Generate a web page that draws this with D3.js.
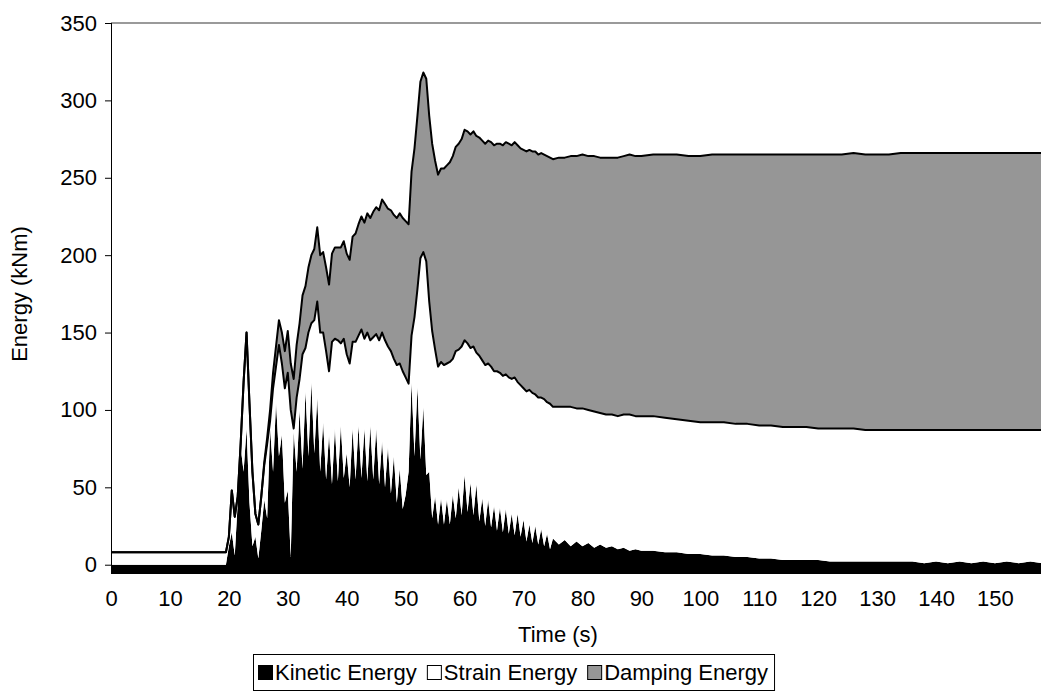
<!DOCTYPE html>
<meta charset="utf-8">
<style>
body { margin: 0; background: #fff; }
text { font-family: "Liberation Sans", Arial, sans-serif; font-size: 22px; fill: #000; }
</style>
<body>
<script src="https://d3js.org/d3.v7.min.js"></script>
<script type="text/javascript">

// values (time in s, energy in kNm)
var time = [0, 19,
  19.5, 20, 20.5, 21, 21.5, 22, 22.5, 23, 23.5, 24,
  24.5, 25, 25.5, 26, 26.5, 27, 27.5, 28, 28.5, 29,
  29.5, 30, 30.5, 31, 31.5, 32, 32.5, 33, 33.5, 34,
  34.5, 35, 35.5, 36, 36.5, 37, 37.5, 38, 38.5, 39,
  39.5, 40, 40.5, 41, 41.5, 42, 42.5, 43, 43.5, 44,
  44.5, 45, 45.5, 46, 46.5, 47, 47.5, 48, 48.5, 49,
  49.5, 50, 50.5, 51, 51.5, 52, 52.5, 53, 53.5, 54,
  54.5, 55, 55.5, 56, 56.5, 57, 57.5, 58, 58.5, 59,
  59.5, 60, 60.5, 61, 61.5, 62, 62.5, 63, 63.5, 64,
  64.5, 65, 65.5, 66, 66.5, 67, 67.5, 68, 68.5, 69,
  69.5, 70, 70.5, 71, 71.5, 72, 72.5, 73, 73.5, 74,
  74.5, 75,
  76, 77, 78, 79, 80, 81, 82, 83, 84, 85,
  86, 87, 88, 89, 90,
  92, 94, 96, 98, 100, 102, 104, 106, 108, 110,
  112, 114, 116, 118, 120, 122, 124, 126, 128, 130,
  132, 134, 136, 138, 140, 142, 144, 146, 148, 150,
  152, 154, 156, 158];

var kinetic = [0, 0,
  0, 12, 21, 6, 40, 76, 60, 88, 40, 12,
  18, 4, 22, 42, 30, 88, 60, 105, 70, 84,
  40, 48, 5, 86, 60, 100, 62, 112, 70, 118,
  72, 108, 60, 92, 55, 84, 52, 88, 54, 90,
  56, 72, 50, 88, 55, 90, 56, 88, 54, 90,
  55, 88, 52, 80, 50, 76, 46, 70, 40, 62,
  36, 45, 60, 118, 70, 115, 68, 102, 58, 60,
  30, 44, 26, 43, 26, 42, 26, 45, 30, 50,
  32, 58, 34, 53, 32, 52, 28, 43, 25, 42,
  24, 38, 22, 37, 21, 36, 20, 33, 19, 33,
  18, 29, 15, 26, 14, 25, 13, 23, 12, 20,
  10, 17,
  13, 16, 12, 15, 12, 14, 11, 13, 11, 12,
  10, 11, 9, 10, 9,
  9, 8, 8, 7, 7, 6, 6, 5, 5, 4,
  4, 3, 3, 3, 3, 2, 2, 2, 2, 2,
  2, 2, 2, 1, 2, 1, 2, 1, 2, 1,
  2, 1, 2, 1];

var strain = [8, 8,
  8, 6, 27, 25, 4, 2, 58, 62, 64, 48,
  15, 22, 22, 22, 48, 5, 54, 23, 72, 46,
  74, 76, 95, 2, 48, 20, 74, 28, 80, 38,
  86, 62, 90, 58, 83, 41, 92, 58, 91, 53,
  90, 64, 80, 56, 89, 58, 96, 58, 96, 55,
  92, 61, 93, 70, 95, 65, 92, 63, 89, 68,
  89, 76, 57, 30, 90, 63, 130, 100, 138, 110,
  121, 95, 102, 88, 103, 88, 105, 88, 108, 89,
  109, 87, 109, 87, 109, 85, 107, 89, 104, 88,
  104, 87, 103, 87, 101, 87, 101, 87, 102, 85,
  98, 85, 97, 87, 97, 85, 95, 85, 95, 85,
  94, 85,
  89, 86, 90, 86, 89, 86, 88, 85, 86, 85,
  86, 86, 88, 86, 87,
  87, 87, 86, 86, 85, 86, 86, 86, 86, 86,
  86, 86, 86, 86, 85, 86, 86, 86, 85, 85,
  85, 85, 85, 86, 85, 86, 85, 86, 85, 86,
  85, 86, 85, 86];

var damping = [0, 0,
  0, 0, 0, 0, 0, 0, 0, 0, 0, 0,
  0, 0, 0, 2, 4, 7, 10, 13, 16, 20,
  24, 27, 30, 32, 34, 36, 38, 40, 42, 44,
  46, 48, 50, 52, 54, 56, 57, 59, 60, 62,
  63, 65, 67, 68, 70, 72, 73, 75, 77, 79,
  81, 82, 84, 86, 88, 89, 91, 93, 95, 97,
  99, 101, 103, 106, 109, 112, 114, 116, 118, 120,
  121, 122, 124, 125, 127, 128, 129, 131, 132, 133,
  134, 136, 137, 138, 139, 140, 141, 142, 143, 144,
  145, 146, 147, 148, 149, 150, 151, 151, 152, 153,
  153, 154, 155, 155, 156, 157, 157, 158, 158, 159,
  159, 160,
  161, 161, 162, 163, 164, 164, 165, 165, 166, 166,
  167, 167, 168, 168, 168,
  169, 170, 171, 171, 172, 173, 173, 174, 174, 175,
  175, 176, 176, 176, 177, 177, 177, 178, 178, 178,
  178, 179, 179, 179, 179, 179, 179, 179, 179, 179,
  179, 179, 179, 179];

var seriesKeys = ["kinetic", "strain", "damping"];
var seriesNames = ["Kinetic Energy", "Strain Energy", "Damping Energy"];
var seriesColors = ["#000000", "#ffffff", "#969696"];

var xTickValues = [0, 10, 20, 30, 40, 50, 60, 70, 80, 90, 100, 110, 120, 130, 140, 150];
var yTickValues = [0, 50, 100, 150, 200, 250, 300, 350];

// SVG dimensions
var svg_size = {"width": 1041, "height": 691};
var plot = {"left": 111, "top": 23, "bottom": 574, "right": 1041};

var holder = d3.select("body")
	.append("svg")
	.attr("width", svg_size.width)
	.attr("height", svg_size.height);

// Scales. The x range runs past the right edge, the chart was cut there.
var x = d3.scaleLinear().domain([0, 158]).range([plot.left, plot.left + 158 * 5.893]);
var y = d3.scaleLinear().domain([-6, 350]).range([plot.bottom, plot.top]);

// rows for the stack
var rows = time.map(function(t, i) {
	return {"t": t, "kinetic": kinetic[i], "strain": strain[i], "damping": damping[i]};
});
var layers = d3.stack().keys(seriesKeys)(rows);

holder.append("clipPath")
	.attr("id", "plotclip")
	.append("rect")
	.attr("x", plot.left)
	.attr("y", plot.top)
	.attr("width", plot.right - plot.left)
	.attr("height", plot.bottom - plot.top);

var chart = holder.append("g").attr("clip-path", "url(#plotclip)");

// Areas. Excel fills the first series down to the bottom of the axis.
var area = d3.area()
	.x(function(d) { return x(d.data.t); })
	.y0(function(d) { return d[0] === 0 && d[1] === d.data.kinetic ? y.range()[0] : y(d[0]); })
	.y1(function(d) { return y(d[1]); });

chart.selectAll(".layer")
	.data(layers)
	.enter().append("path")
	.attr("class", "layer")
	.style("fill", function(d, i) { return seriesColors[i]; })
	.style("stroke", "none")
	.attr("d", area);

// top edges of strain and damping drawn as black lines
var edge = d3.line()
	.x(function(d) { return x(d.data.t); })
	.y(function(d) { return y(d[1]); });

chart.selectAll(".edge")
	.data(layers.slice(1))
	.enter().append("path")
	.attr("class", "edge")
	.style("fill", "none")
	.style("stroke", "#000")
	.style("stroke-width", 2)
	.style("stroke-linejoin", "round")
	.attr("d", edge);

// top border of the plot area
holder.append("line")
	.attr("x1", plot.left).attr("x2", plot.right)
	.attr("y1", plot.top).attr("y2", plot.top)
	.style("stroke", "#9a9a9a")
	.style("stroke-width", 2);

// Y axis
holder.append("g")
	.attr("transform", "translate(" + plot.left + ",0)")
	.call(d3.axisLeft(y).tickValues(yTickValues).tickSize(6).tickSizeOuter(0).tickPadding(8))
	.call(function(g) {
		g.select(".domain").attr("d", "M0.5," + plot.top + "V" + plot.bottom).style("stroke", "#000");
		g.selectAll(".tick line").style("stroke", "#000");
		g.selectAll(".tick text").style("font-size", "22px").style("font-family", null);
	});

// X labels, no tick marks
holder.append("g")
	.attr("transform", "translate(0," + plot.bottom + ")")
	.call(d3.axisBottom(x).tickValues(xTickValues).tickSize(0).tickPadding(16))
	.call(function(g) {
		g.select(".domain").remove();
		g.selectAll(".tick text").style("font-size", "22px").style("font-family", null);
	});

// axis titles
holder.append("text")
	.attr("x", 558)
	.attr("y", 642)
	.attr("text-anchor", "middle")
	.text("Time (s)");

holder.append("text")
	.attr("transform", "translate(27,294) rotate(-90)")
	.attr("text-anchor", "middle")
	.text("Energy (kNm)");

// legend
var legend = holder.append("g");
var box = legend.append("rect")
	.style("fill", "#fff")
	.style("stroke", "#000")
	.style("stroke-width", 1);

var lx = 258;
seriesNames.forEach(function(name, i) {
	legend.append("rect")
		.attr("x", lx + 0.5).attr("y", 665.5)
		.attr("width", 14).attr("height", 14)
		.style("fill", seriesColors[i])
		.style("stroke", "#000");
	var t = legend.append("text")
		.attr("x", lx + 17)
		.attr("y", 680)
		.text(name);
	lx += 17 + t.node().getComputedTextLength() + 10;
});
box.attr("x", 253.5).attr("y", 654.5)
	.attr("width", lx - 10 + 6 - 253)
	.attr("height", 36);

</script>
</body>
